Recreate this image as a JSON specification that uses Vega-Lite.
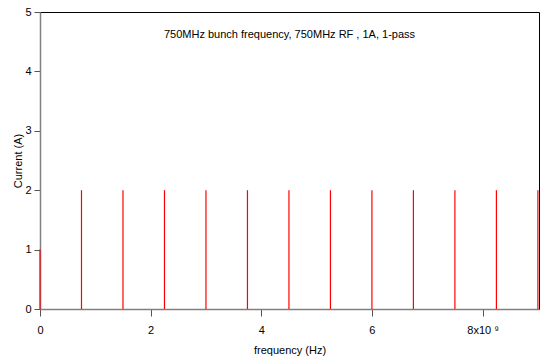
{
  "$schema": "https://vega.github.io/schema/vega-lite/v6.json",
  "autosize": "none",
  "width": 499,
  "height": 297,
  "padding": {"left": 40, "top": 12, "right": 4, "bottom": 48},
  "background": "white",
  "config": {
    "view": {"stroke": "black", "strokeWidth": 1},
    "font": "Liberation Sans",
    "axis": {"grid": false, "labelFont": "Liberation Sans", "titleFont": "Liberation Sans", "labelFontSize": 11, "titleFontSize": 11, "titleFontWeight": "normal", "labelColor": "black", "titleColor": "black"}
  },
  "title": {"text": "750MHz bunch frequency, 750MHz RF , 1A, 1-pass", "fontSize": 11, "fontWeight": "normal", "font": "Liberation Sans", "color": "black", "anchor": "middle", "offset": -34},
  "data": {"values": [
    {"freq": 0, "current": 1},
    {"freq": 750000000, "current": 2},
    {"freq": 1500000000, "current": 2},
    {"freq": 2250000000, "current": 2},
    {"freq": 3000000000, "current": 2},
    {"freq": 3750000000, "current": 2},
    {"freq": 4500000000, "current": 2},
    {"freq": 5250000000, "current": 2},
    {"freq": 6000000000, "current": 2},
    {"freq": 6750000000, "current": 2},
    {"freq": 7500000000, "current": 2},
    {"freq": 8250000000, "current": 2},
    {"freq": 9000000000, "current": 2}
  ]},
  "mark": {"type": "rule", "color": "#ff0000", "strokeWidth": 1.2},
  "encoding": {
    "x": {"field": "freq", "type": "quantitative", "scale": {"domain": [0, 9020000000], "nice": false, "zero": false},
      "axis": {"orient": "bottom", "values": [0, 2000000000, 4000000000, 6000000000, 8000000000], "labelExpr": "datum.value == 8000000000 ? '8x10 \u2079' : format(datum.value / 1e9, 'd')", "title": "frequency (Hz)", "domainColor": "#808080", "domainWidth": 1.5, "tickColor": "#555555", "tickSize": 7, "labelPadding": 8, "titlePadding": 9, "labelFlush": false}},
    "y": {"field": "current", "type": "quantitative", "scale": {"domain": [0, 5], "nice": false},
      "axis": {"orient": "left", "values": [0, 1, 2, 3, 4, 5], "title": "Current (A)", "domainColor": "#808080", "domainWidth": 1.5, "tickColor": "#555555", "tickSize": 6, "labelPadding": 3, "titlePadding": 1}},
    "y2": {"datum": 0}
  }
}
